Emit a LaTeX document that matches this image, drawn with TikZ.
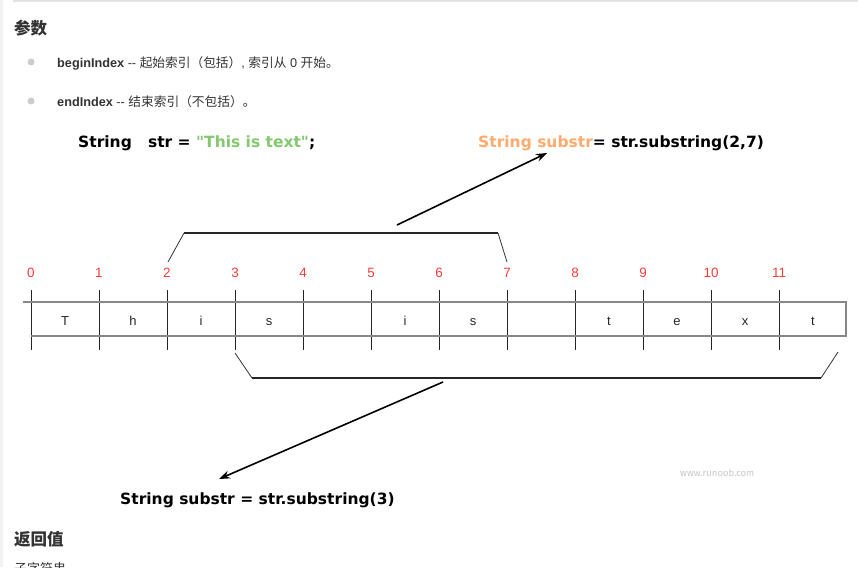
\documentclass[tikz,border=0pt]{standalone}
\usepackage{fontspec}
\setmainfont{Liberation Sans}
\newfontfamily\cjk{Noto Sans CJK SC}
\newfontfamily\codefont{DejaVu Sans}
\newfontfamily\markfont{Fira Sans}
\usetikzlibrary{arrows.meta}

\definecolor{bodytext}{HTML}{333333}
\definecolor{edgegray}{HTML}{F2F2F2}
\definecolor{rulegray}{HTML}{E2E2E2}
\definecolor{dotgray}{HTML}{CCCCCC}
\definecolor{idxred}{HTML}{FF3B3B}
\definecolor{strgreen}{HTML}{82C86E}
\definecolor{varorange}{HTML}{FFAA6E}
\definecolor{cellline}{HTML}{888888}
\definecolor{markgray}{HTML}{C8C8C8}

\begin{document}
\begin{tikzpicture}[x=1pt,y=-1pt,
  heading/.style={anchor=base west, inner sep=0pt, text=bodytext, font=\cjk\bfseries\fontsize{16.5}{18}\selectfont},
  bullettext/.style={anchor=base west, inner sep=0pt, text=bodytext, font=\fontsize{12.7}{14}\selectfont},
  bulletdot/.style={fill=dotgray, draw=none, circle, minimum size=7pt, inner sep=0pt},
  code/.style={anchor=base west, inner sep=0pt, text=black, font=\codefont\bfseries\fontsize{15.5}{18}\selectfont},
  idx/.style={anchor=base, inner sep=0pt, text=idxred, font=\fontsize{13.5}{15}\selectfont},
  cellchar/.style={anchor=base, inner sep=0pt, text=black!85, font=\fontsize{13}{15}\selectfont},
  tick/.style={draw=black!85, line width=0.9pt},
  strip/.style={draw=cellline, line width=1.4pt},
  legline/.style={draw=black!80, line width=0.8pt},
  brace/.style={draw=black!85, line width=2pt},
  pointer/.style={draw=black, line width=1.6pt, -{Stealth[length=11pt,width=8pt]}},
  watermark/.style={anchor=base west, inner sep=0pt, text=markgray, font=\markfont\fontsize{9.5}{11}\selectfont}
]
\useasboundingbox (0,0) rectangle (858,567);

% page frame
\fill[edgegray] (0,0) rectangle (3,567);
\draw[rulegray, line width=1.5pt] (13,1) -- (858,1);

% parameter section
\node[heading] (hparams) at (14,35) {参数};
\node[bulletdot] (dot1) at (31,62) {};
\node[bullettext] (begin) at (57,67.5) {{\bfseries beginIndex} -{}- {\cjk 起始索引（包括）}, {\cjk 索引从} 0 {\cjk 开始。}};
\node[bulletdot] (dot2) at (31,101) {};
\node[bullettext] (end) at (57,106.5) {{\bfseries endIndex} -{}- {\cjk 结束索引（不包括）。}};

% code lines
\node[code] (decl) at (78,147) {String\ \ \ str = \textcolor{strgreen}{"This is text"};};
\node[code] (sub27) at (478,147) {\textcolor{varorange}{String substr}= str.substring(2,7)};
\node[code] (sub3) at (120,504) {String substr = str.substring(3)};

% index numbers and tick marks
\foreach \k in {0,...,11} {
  \node[idx] (n\k) at ({31+68*\k},277.5) {\k};
  \draw[tick] ({31+68*\k},290) -- ({31+68*\k},350);
}

% character cells
\draw[strip] (23,302) -- (846,302) -- (846,336) -- (31,336);
\foreach \ch [count=\i from 0] in {T,h,i,s,{},i,s,{},t,e,x,t} {
  \node[cellchar] (c\i) at ({65+68*\i},325) {\ch};
}

% bracket over indices 2..7
\draw[legline] (168,262) -- (184,233);
\draw[brace] (184,233) -- (498,233);
\draw[legline] (498,233) -- (507,262);
\coordinate (topmid) at (397,225);
\coordinate (toptarget) at (547,153);
\draw[pointer] (topmid) -- (toptarget);

% bracket under indices 3..end
\draw[legline] (235,353) -- (252,378);
\draw[brace] (252,378) -- (821,378);
\draw[legline] (821,378) -- (838,352);
\coordinate (botmid) at (443,382);
\coordinate (bottarget) at (219,479);
\draw[pointer] (botmid) -- (bottarget);

\node[watermark] (mark) at (680,476) {www.runoob.com};

% return value section
\node[heading] (hreturn) at (14,545) {返回值};
\node[anchor=base west, inner sep=0pt, text=bodytext, font=\cjk\fontsize{13}{15}\selectfont] (retdesc) at (14,573) {子字符串};
\end{tikzpicture}
\end{document}
